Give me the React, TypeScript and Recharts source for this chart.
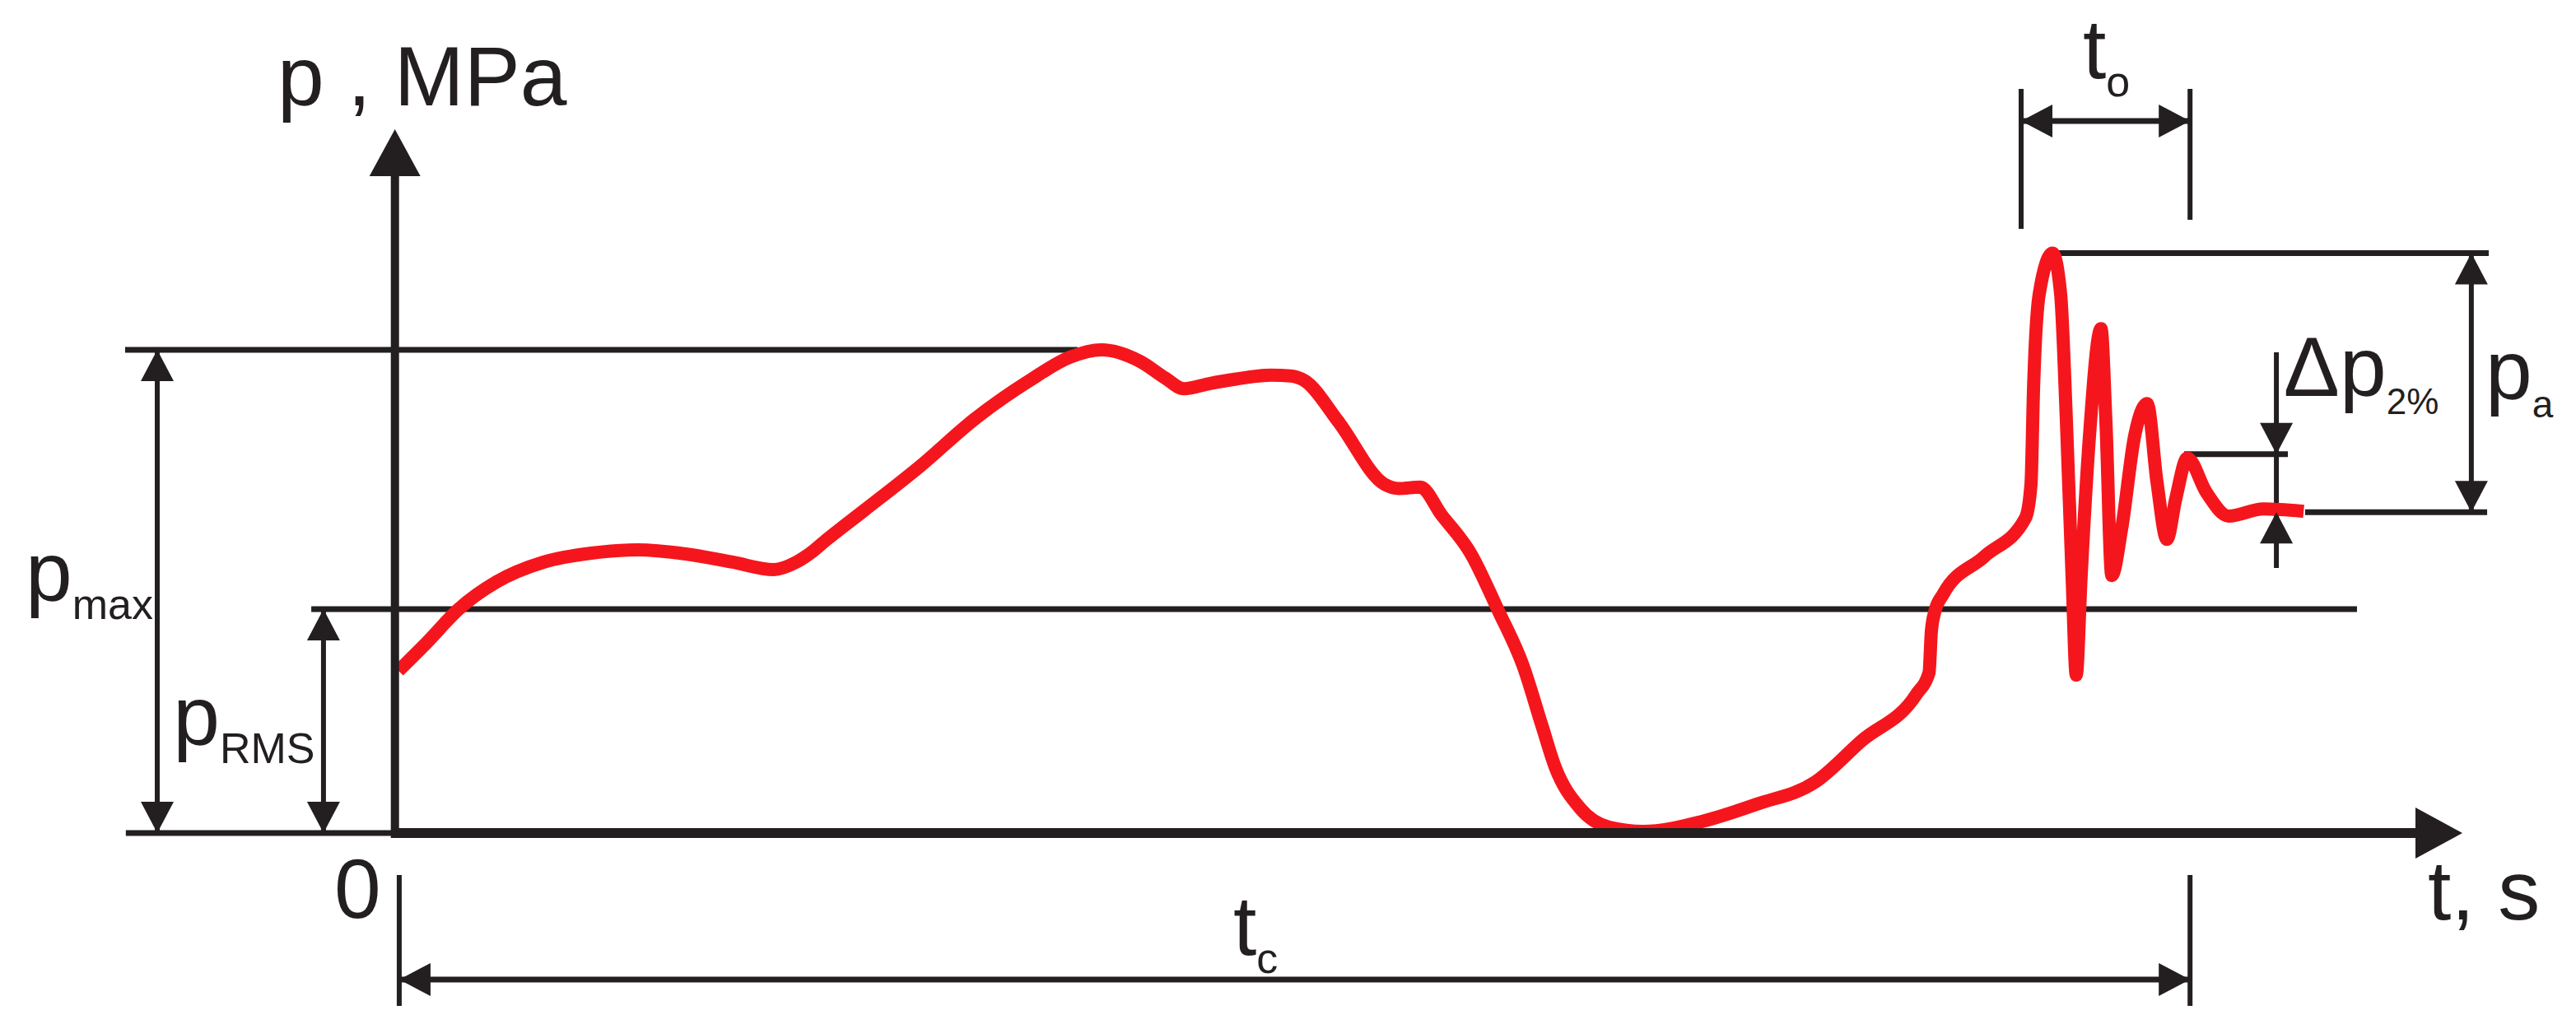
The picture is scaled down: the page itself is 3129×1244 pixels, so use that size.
import { ComposedChart, Line, XAxis, YAxis, ReferenceLine, ReferenceDot } from "recharts"

// pressure trace (t in s, p in MPa, schematic units)
const time = [
  0.02, 0.18, 0.355, 0.565, 0.827, 1.093, 1.354, 1.62, 1.882, 2.111, 2.235, 2.308, 2.409, 2.615, 2.923, 3.225,
  3.532, 3.762, 3.935, 4.152, 4.29, 4.395, 4.541, 4.679, 4.881, 4.991, 5.069, 5.253, 5.514, 5.592, 5.711, 5.831,
  5.991, 6.147, 6.284, 6.39, 6.463, 6.601, 6.766, 6.954, 7.28, 7.587, 7.913, 8.17, 8.477, 8.546, 8.559, 8.578,
  8.624, 8.853, 9.083, 9.114, 9.128, 9.16, 9.234, 9.279, 9.311, 9.343, 9.366, 9.393, 9.44, 9.504, 9.531,
  9.564, 9.619, 9.692, 9.761, 9.816, 9.871, 9.921, 9.985, 10.091, 10.215, 10.408, 10.633,
]
const pressure = [
  3.36, 3.953, 4.635, 5.197, 5.606, 5.793, 5.861, 5.776, 5.606, 5.453, 5.606, 5.776, 6.085, 6.681, 7.584, 8.555,
  9.356, 9.85, 10.0, 9.76, 9.42, 9.196, 9.306, 9.392, 9.477, 9.46, 9.36, 8.527, 7.215, 7.13, 7.16, 6.581,
  5.798, 4.6, 3.47, 2.22, 1.37, 0.52, 0.12, 0.036, 0.24, 0.6, 1.06, 1.91, 2.88, 3.32, 4.175, 4.58,
  4.94, 5.72, 6.52, 7.22, 9.18, 11.16, 12.0, 11.16, 8.55, 5.3, 3.27, 5.3, 8.23, 10.44, 8.55,
  5.33, 6.3, 8.23, 8.89, 7.26, 6.08, 6.93, 7.76, 7.05, 6.56, 6.71, 6.66,
]

// characteristic levels
const P_MAX = 10.0
const P_RMS = 4.635
const P_PEAK = 12.0
const P_SETTLED = 6.64
const P_BAND = 7.84
const T_C = 10.0
const T_O_START = 9.059

const data = time.map((t, i) => ({ t, p: pressure[i] }))

const INK = "#231f20"
const RED = "#f5161d"
const FONT = "'Liberation Sans', Arial, sans-serif"

type Dir = "up" | "down" | "left" | "right"

const arrowHead = (dir: Dir, len: number, half: number) => (props: any) => {
  const { cx, cy } = props
  let pts: number[][]
  if (dir === "up") pts = [[cx, cy], [cx - half, cy + len], [cx + half, cy + len]]
  else if (dir === "down") pts = [[cx, cy], [cx - half, cy - len], [cx + half, cy - len]]
  else if (dir === "left") pts = [[cx, cy], [cx + len, cy - half], [cx + len, cy + half]]
  else pts = [[cx, cy], [cx - len, cy - half], [cx - len, cy + half]]
  return <polygon points={pts.map((q) => q.join(",")).join(" ")} fill={INK} />
}

const label = (main: string, sub?: string, subSize = 52) => (props: any) => (
  <text x={props.cx} y={props.cy} fontFamily={FONT} fontSize={102} fill={INK}>
    {main}
    {sub ? (
      <tspan dy={22} fontSize={subSize}>
        {sub}
      </tspan>
    ) : null}
  </text>
)

const seg = (t1: number, p1: number, t2: number, p2: number, w: number, key: string) => (
  <ReferenceLine
    key={key}
    segment={[
      { x: t1, y: p1 },
      { x: t2, y: p2 },
    ]}
    stroke={INK}
    strokeWidth={w}
    ifOverflow="visible"
  />
)

const heads: { t: number; p: number; dir: Dir; big?: boolean }[] = [
  { t: 0, p: 14.566, dir: "up", big: true },
  { t: 11.517, p: 0, dir: "right", big: true },
  { t: -1.324, p: P_MAX, dir: "up" },
  { t: -1.324, p: 0, dir: "down" },
  { t: -0.398, p: P_RMS, dir: "up" },
  { t: -0.398, p: 0, dir: "down" },
  { t: 11.567, p: P_PEAK, dir: "up" },
  { t: 11.567, p: P_SETTLED, dir: "down" },
  { t: 10.481, p: P_BAND, dir: "down" },
  { t: 10.481, p: P_SETTLED, dir: "up" },
  { t: T_O_START, p: 14.736, dir: "left" },
  { t: T_C, p: 14.736, dir: "right" },
  { t: 0.024, p: -3.03, dir: "left" },
  { t: T_C, p: -3.03, dir: "right" },
]

export default function App() {
  return (
    <div style={{ position: "absolute", left: 0, top: 0, background: "#fff" }}>
      <ComposedChart width={3129} height={1244} data={data} margin={{ top: 0, right: 0, bottom: 0, left: 0 }}>
        <XAxis type="number" dataKey="t" domain={[-2.2, 12.15]} allowDataOverflow hide />
        <YAxis type="number" domain={[-3.95, 17.24]} allowDataOverflow hide />

        {/* reference levels */}
        {seg(-1.503, P_MAX, 3.803, P_MAX, 7, "pmax")}
        {seg(-0.466, P_RMS, 10.93, P_RMS, 7, "prms")}
        {seg(-1.499, 0, 0, 0, 7, "base")}
        {seg(9.242, P_PEAK, 11.664, P_PEAK, 7, "patop")}
        {seg(10.641, P_SETTLED, 11.655, P_SETTLED, 7, "pabot")}
        {seg(9.967, P_BAND, 10.545, P_BAND, 7, "band")}

        {/* dimension lines */}
        {seg(-1.324, 0, -1.324, P_MAX, 6, "dmax")}
        {seg(-0.398, 0, -0.398, P_RMS, 6, "drms")}
        {seg(11.567, P_SETTLED, 11.567, P_PEAK, 6, "dpa")}
        {seg(10.481, 5.487, 10.481, 9.95, 6, "dband")}
        {seg(T_O_START, 12.504, T_O_START, 15.4, 6, "to1")}
        {seg(T_C, 12.69, T_C, 15.4, 6, "to2")}
        {seg(T_O_START, 14.736, T_C, 14.736, 7, "to")}
        {seg(0.024, -0.867, 0.024, -3.575, 6, "tc1")}
        {seg(T_C, -0.867, T_C, -3.575, 6, "tc2")}
        {seg(0.024, -3.03, T_C, -3.03, 7, "tc")}

        <Line
          type="monotone"
          dataKey="p"
          stroke={RED}
          strokeWidth={16}
          style={{ strokeWidth: 16 }}
          strokeLinejoin="round"
          dot={false}
          activeDot={false}
          isAnimationActive={false}
        />

        {/* axes */}
        {seg(0, -0.1, 0, 13.8, 10, "yaxis")}
        {seg(0, 0, 11.3, 0, 12, "xaxis")}

        {heads.map((h, i) => (
          <ReferenceDot
            key={"h" + i}
            x={h.t}
            y={h.p}
            r={0}
            ifOverflow="visible"
            shape={h.big ? arrowHead(h.dir, 57, 31) : arrowHead(h.dir, 38, 20)}
          />
        ))}

        <ReferenceDot x={-0.654} y={15.06} r={0} ifOverflow="visible" shape={label("p , MPa")} />
        <ReferenceDot x={-0.338} y={-1.753} r={0} ifOverflow="visible" shape={label("0")} />
        <ReferenceDot x={11.325} y={-1.787} r={0} ifOverflow="visible" shape={label("t, s")} />
        <ReferenceDot x={4.67} y={-2.52} r={0} ifOverflow="visible" shape={label("t", "c")} />
        <ReferenceDot x={9.403} y={15.62} r={0} ifOverflow="visible" shape={label("t", "o")} />
        <ReferenceDot x={-2.058} y={4.8} r={0} ifOverflow="visible" shape={label("p", "max")} />
        <ReferenceDot x={-1.236} y={1.826} r={0} ifOverflow="visible" shape={label("p", "RMS")} />
        <ReferenceDot x={10.521} y={9.047} r={0} ifOverflow="visible" shape={label("Δp", "2%", 44)} />
        <ReferenceDot x={11.646} y={8.98} r={0} ifOverflow="visible" shape={label("p", "a", 46)} />
      </ComposedChart>
    </div>
  )
}
